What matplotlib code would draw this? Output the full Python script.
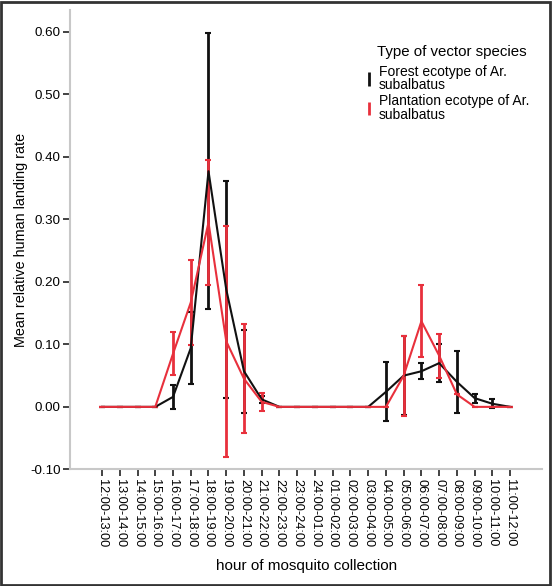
import matplotlib
matplotlib.use("Agg")
import matplotlib.pyplot as plt
import numpy as np

plt.rcParams['font.family'] = ['Liberation Sans', 'DejaVu Sans']

# hour-of-collection categories
hours = ['12:00-13:00', '13:00-14:00', '14:00-15:00', '15:00-16:00', '16:00-17:00',
         '17:00-18:00', '18:00-19:00', '19:00-20:00', '20:00-21:00', '21:00-22:00',
         '22:00-23:00', '23:00-24:00', '24:00-01:00', '01:00-02:00', '02:00-03:00',
         '03:00-04:00', '04:00-05:00', '05:00-06:00', '06:00-07:00', '07:00-08:00',
         '08:00-09:00', '09:00-10:00', '10:00-11:00', '11:00-12:00']

# forest ecotype: mean and half-length of error bar
forest_mean = [0, 0, 0, 0, 0.016, 0.094, 0.377, 0.188, 0.057, 0.012, 0, 0,
               0, 0, 0, 0, 0.024, 0.050, 0.057, 0.070, 0.040, 0.014, 0.005, 0]
forest_err = [0, 0, 0, 0, 0.019, 0.058, 0.221, 0.173, 0.066, 0.006, 0, 0,
              0, 0, 0, 0, 0.047, 0.063, 0.013, 0.030, 0.050, 0.007, 0.007, 0]

# plantation ecotype
plant_mean = [0, 0, 0, 0, 0.085, 0.167, 0.295, 0.105, 0.045, 0.008, 0, 0,
              0, 0, 0, 0, 0, 0.050, 0.137, 0.082, 0.020, 0, 0, 0]
plant_err = [0, 0, 0, 0, 0.034, 0.068, 0.100, 0.185, 0.087, 0.014, 0, 0,
             0, 0, 0, 0, 0, 0.064, 0.058, 0.035, 0, 0, 0, 0]

series_labels = ['Forest ecotype of Ar.\nsubalbatus', 'Plantation ecotype of Ar.\nsubalbatus']
black = '#111111'
red = '#e8303c'

fig = plt.figure(figsize=(5.52, 5.86), dpi=100)
ax = fig.add_axes([0.127, 0.199, 0.855, 0.784])

x = np.arange(len(hours))
ax.errorbar(x, forest_mean, yerr=forest_err, color=black, lw=1.5, elinewidth=2,
            capsize=2.5, capthick=1.5)
ax.errorbar(x, plant_mean, yerr=plant_err, color=red, lw=1.5, elinewidth=2,
            capsize=2.5, capthick=1.5)

ax.set_xlim(-1.8, 24.8)
ax.set_ylim(-0.10, 0.635)
ax.set_xticks(x)
ax.set_xticklabels(hours, rotation=-90, fontsize=9.2)
ax.set_yticks(np.arange(-0.1, 0.61, 0.1))
ax.set_yticklabels([f'{v:.2f}' for v in np.arange(-0.1, 0.61, 0.1)], fontsize=9.6)

for s in ['top', 'right']:
    ax.spines[s].set_visible(False)
for s in ['left', 'bottom']:
    ax.spines[s].set_color('#c8c8c8')
    ax.spines[s].set_linewidth(1.5)
ax.tick_params(axis='both', length=5, width=1.2, color='#222222', pad=2)

ax.set_xlabel('hour of mosquito collection', fontsize=11, labelpad=8)
ax.set_ylabel('Mean relative human landing rate', fontsize=10.4, labelpad=1)

# legend: only error-bar symbols, title placed separately
h1 = ax.errorbar([], [], yerr=[], fmt='none', color=black, elinewidth=2, capsize=2, capthick=1.5)
h2 = ax.errorbar([], [], yerr=[], fmt='none', color=red, elinewidth=2, capsize=2, capthick=1.5)
leg = ax.legend([h1, h2], series_labels, loc='upper left', bbox_to_anchor=(0.625, 0.881),
                frameon=False, fontsize=10, handlelength=0.5, handletextpad=0.5,
                labelspacing=0.15, borderaxespad=0, borderpad=0)
for t in leg.get_texts():
    t.set_linespacing(0.95)
ax.text(0.65, 0.909, 'Type of vector species', transform=ax.transAxes, fontsize=10.8,
        va='center', ha='left')

# thin frame around the whole picture
fig.patches.append(plt.Rectangle((0.002, 0.002), 0.995, 0.995, transform=fig.transFigure,
                                 fill=False, edgecolor='#333333', lw=2))

fig.savefig('out.png', dpi=100)
